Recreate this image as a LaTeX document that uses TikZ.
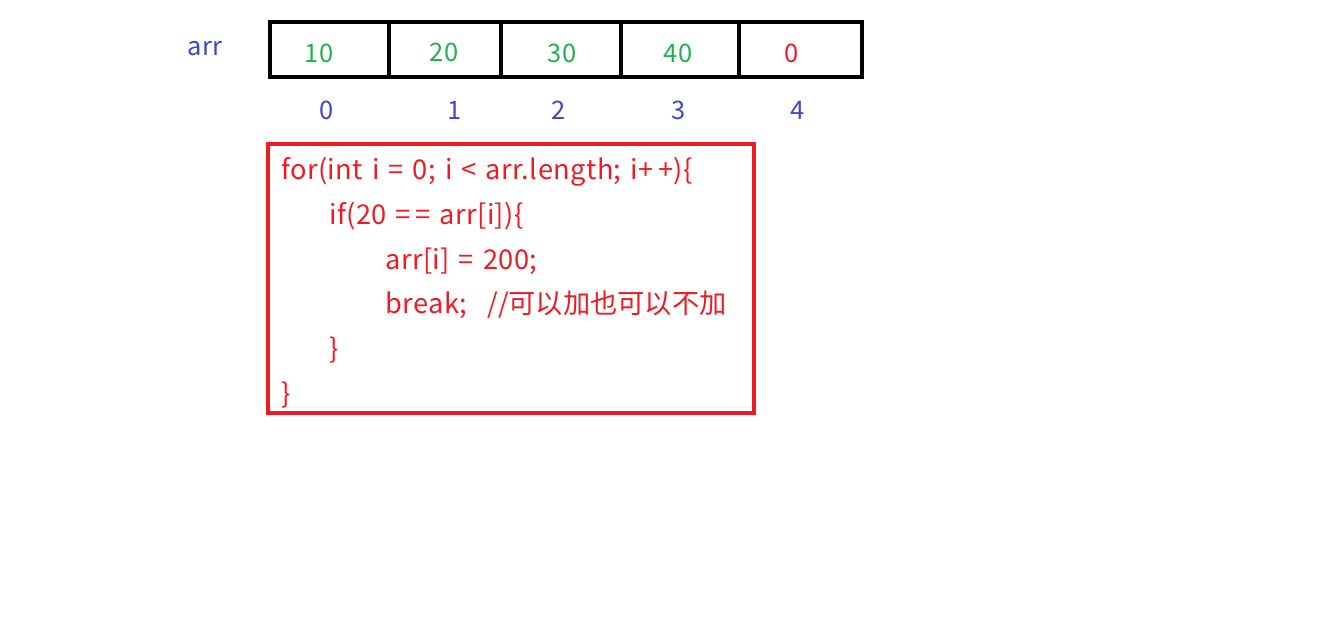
\documentclass[tikz,border=0pt]{standalone}
\usepackage{fontspec}
\setmainfont{Noto Sans CJK SC}
\newfontfamily\codefont[LetterSpace=1.5, WordSpace=1.4]{Noto Sans CJK SC}
\newfontfamily\notefont{Noto Sans CJK SC}
\usepackage{xcolor}
\definecolor{valgreen}{RGB}{34,177,76}
\definecolor{idxblue}{RGB}{63,72,204}
\definecolor{codered}{RGB}{237,28,36}
\tikzset{
  val/.style={font=\fontsize{14.5}{16}\selectfont, text=valgreen, anchor=base},
  idx/.style={font=\fontsize{14.5}{16}\selectfont, text=idxblue, anchor=base},
  code/.style={font=\codefont\fontsize{15.5}{18}\selectfont, text=codered, anchor=base west, inner sep=0pt}
}
\begin{document}
\begin{tikzpicture}[x=0.02cm, y=-0.02cm]
                \useasboundingbox (0, 0) rectangle (1341, 630);
                % array cells
                \draw[line width=2.3pt] (270, 22) rectangle (862, 77);
                \foreach \xd in {389, 501, 621, 739}
                    \draw[line width=2.3pt] (\xd, 22) -- (\xd, 77);

                \node[idx] (arrname) at (205, 55) {arr};
                \node[val] (v0) at (319, 62) {10};
                \node[val] (v1) at (444, 61) {20};
                \node[val] (v2) at (562, 62) {30};
                \node[val] (v3) at (678, 62) {40};
                \node[val, text=codered] (v4) at (792, 62) {0};

                \node[idx] (i0) at (327, 119) {0};
                \node[idx] (i1) at (455, 119) {1};
                \node[idx] (i2) at (559, 119) {2};
                \node[idx] (i3) at (679, 119) {3};
                \node[idx] (i4) at (798, 119) {4};

                % loop code
                \draw[codered, line width=2.3pt] (268, 144) rectangle (754, 413);
                \node[code] (l1) at (281, 179) {for(int i = 0; i < arr.length; i+\,+)\{};
                \node[code] (l2) at (329, 224) {if(20 =\,= arr[i])\{};
                \node[code] (l3) at (385, 269) {arr[i] = 200;};
                \node[code] (l4) at (385, 313) {break;};
                \node[code, font=\notefont\fontsize{15.5}{18}\selectfont] (l4c) at (487, 313) {//可以加也可以不加};
                \node[code] (l5) at (329, 358) {\}};
                \node[code] (l6) at (281, 403) {\}};
            \end{tikzpicture}
\end{document}
